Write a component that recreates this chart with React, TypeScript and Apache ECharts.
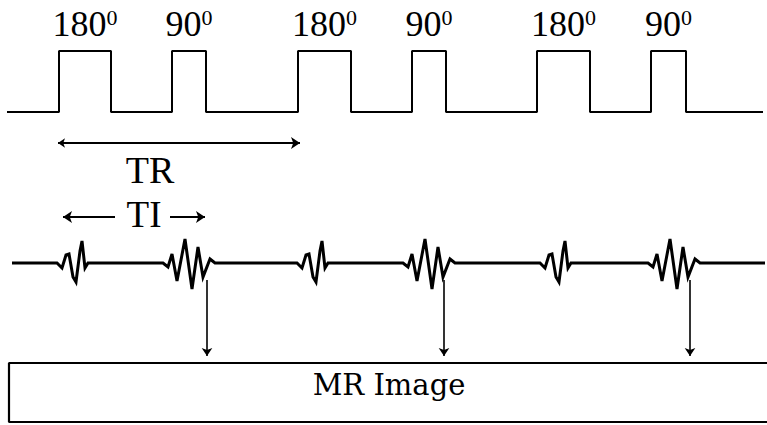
import React, { useEffect, useRef } from "react";
import * as echarts from "echarts";

// ---- Pulse sequence (time units along x, level units along y) ----
const pulseStart = [59, 172, 298, 412, 537, 651];
const pulseEnd = [111, 206, 351, 446, 590, 686];
const pulseLabel = ["180", "90", "180", "90", "180", "90"];
const pulseTrainRange = [7, 763];
const pulseBaseLevel = 112;
const pulseTopLevel = 51;
const pulseLabelLevel = 24;

// ---- Signal ----
const signalRange = [12, 765];
const signalBaseLevel = 263;
const fidStart = [57, 297, 540];
const fidDx = [0, 3, 5, 9, 12, 16, 19, 23, 25, 28, 31];
const fidDy = [0, 3, 5, -8, -9, 14, 19, -12, -22, 5, 0];
const echoStart = [163, 403, 648];
const echoDx = [0, 5, 9, 14, 22, 29, 35, 40, 47, 52];
const echoDy = [0, 4, -9, 18, -24, 26, -16, 14, -4, 0];

// ---- Readout arrows ----
const readoutX = [207, 444, 690];
const readoutFrom = 280;
const readoutTo = 356;

// ---- Interval arrows ----
const trRange = [58, 300];
const trLevel = 143;
const trLabelPos = [150, 170];
const tiLeftArrow = [115, 63];
const tiRightArrow = [170, 205];
const tiLevel = 217;
const tiLabelPos = [144, 214];

// ---- Image box ----
const boxLeft = 9;
const boxRight = 767;
const boxTop = 363;
const boxBottom = 422;
const boxLabelPos = [389, 385];

export default function App() {
  const ref = useRef<HTMLDivElement>(null);
  useEffect(() => {
    if (!ref.current) return;
    const chart = echarts.init(ref.current, null, { renderer: "svg" });

    // pulse train
    const pulsePts: number[][] = [[pulseTrainRange[0], pulseBaseLevel]];
    pulseStart.forEach((s, i) => {
      pulsePts.push([s, pulseBaseLevel], [s, pulseTopLevel], [pulseEnd[i], pulseTopLevel], [pulseEnd[i], pulseBaseLevel]);
    });
    pulsePts.push([pulseTrainRange[1], pulseBaseLevel]);

    // signal
    const bursts = [
      ...fidStart.map((s) => ({ s, dx: fidDx, dy: fidDy })),
      ...echoStart.map((s) => ({ s, dx: echoDx, dy: echoDy })),
    ].sort((a, b) => a.s - b.s);
    const sigPts: number[][] = [[signalRange[0], signalBaseLevel]];
    bursts.forEach((b) => {
      b.dx.forEach((d, i) => sigPts.push([b.s + d, signalBaseLevel + b.dy[i]]));
    });
    sigPts.push([signalRange[1], signalBaseLevel]);

    const boxPts = [
      [boxRight, boxTop],
      [boxLeft, boxTop],
      [boxLeft, boxBottom],
      [boxRight, boxBottom],
    ];

    const serif = "Liberation Serif";
    const ink = "#000";
    const lineStyle = { color: ink, width: 2 };

    const labelSeries = (name: string, pts: any[], label: any) => ({
      type: "scatter",
      name,
      symbolSize: 0,
      silent: true,
      itemStyle: { opacity: 1, color: ink },
      data: pts,
      label: { show: true, position: "inside", color: ink, opacity: 1, ...label },
    });

    chart.setOption({
      animation: false,
      backgroundColor: "#fff",
      grid: { left: 0, right: 0, top: 0, bottom: 0 },
      xAxis: { type: "value", min: 0, max: 767, show: false },
      yAxis: { type: "value", min: 0, max: 425, inverse: true, show: false },
      series: [
        {
          type: "line",
          name: "pulses",
          data: pulsePts,
          showSymbol: false,
          silent: true,
          lineStyle,
        },
        {
          type: "line",
          name: "signal",
          data: sigPts,
          showSymbol: false,
          silent: true,
          lineStyle: { color: ink, width: 3, join: "miter" },
        },
        {
          type: "line",
          name: "box",
          data: boxPts,
          showSymbol: false,
          silent: true,
          lineStyle: { color: ink, width: 2.2 },
        },
        {
          type: "lines",
          coordinateSystem: "cartesian2d",
          silent: true,
          symbol: ["none", "arrow"],
          symbolSize: [6, 8],
          lineStyle: { color: ink, width: 1.6, opacity: 1 },
          data: readoutX.map((x) => ({ coords: [[x, readoutFrom], [x, readoutTo]] })),
        },
        {
          type: "lines",
          coordinateSystem: "cartesian2d",
          silent: true,
          symbol: ["arrow", "arrow"],
          symbolSize: [7, 9],
          lineStyle: { color: ink, width: 2, opacity: 1 },
          data: [{ coords: [[trRange[0], trLevel], [trRange[1], trLevel]] }],
        },
        {
          type: "lines",
          coordinateSystem: "cartesian2d",
          silent: true,
          symbol: ["none", "arrow"],
          symbolSize: [7, 9],
          lineStyle: { color: ink, width: 2, opacity: 1 },
          data: [
            { coords: [[tiLeftArrow[0], tiLevel], [tiLeftArrow[1], tiLevel]] },
            { coords: [[tiRightArrow[0], tiLevel], [tiRightArrow[1], tiLevel]] },
          ],
        },
        labelSeries(
          "pulseLabels",
          pulseStart.map((s, i) => ({
            value: [(s + pulseEnd[i]) / 2, pulseLabelLevel],
            label: { formatter: `{n|${pulseLabel[i]}}{s|0}` },
          })),
          {
            rich: {
              n: { fontFamily: serif, fontSize: 36, lineHeight: 36, color: ink },
              s: { fontFamily: serif, fontSize: 22, lineHeight: 22, verticalAlign: "top", color: ink },
            },
          }
        ),
        labelSeries("tr", [{ value: trLabelPos, label: { formatter: "TR" } }], {
          fontFamily: serif,
          fontSize: 38,
          lineHeight: 38,
        }),
        labelSeries("ti", [{ value: tiLabelPos, label: { formatter: "TI" } }], {
          fontFamily: serif,
          fontSize: 37,
          lineHeight: 37,
        }),
        labelSeries("box", [{ value: boxLabelPos, label: { formatter: "MR Image" } }], {
          fontFamily: "DejaVu Serif",
          fontSize: 29,
          lineHeight: 29,
        }),
      ],
    });
    return () => chart.dispose();
  }, []);
  return (
    <div
      ref={ref}
      style={{ position: "fixed", left: 0, top: 0, width: 767, height: 425, background: "#fff" }}
    />
  );
}
